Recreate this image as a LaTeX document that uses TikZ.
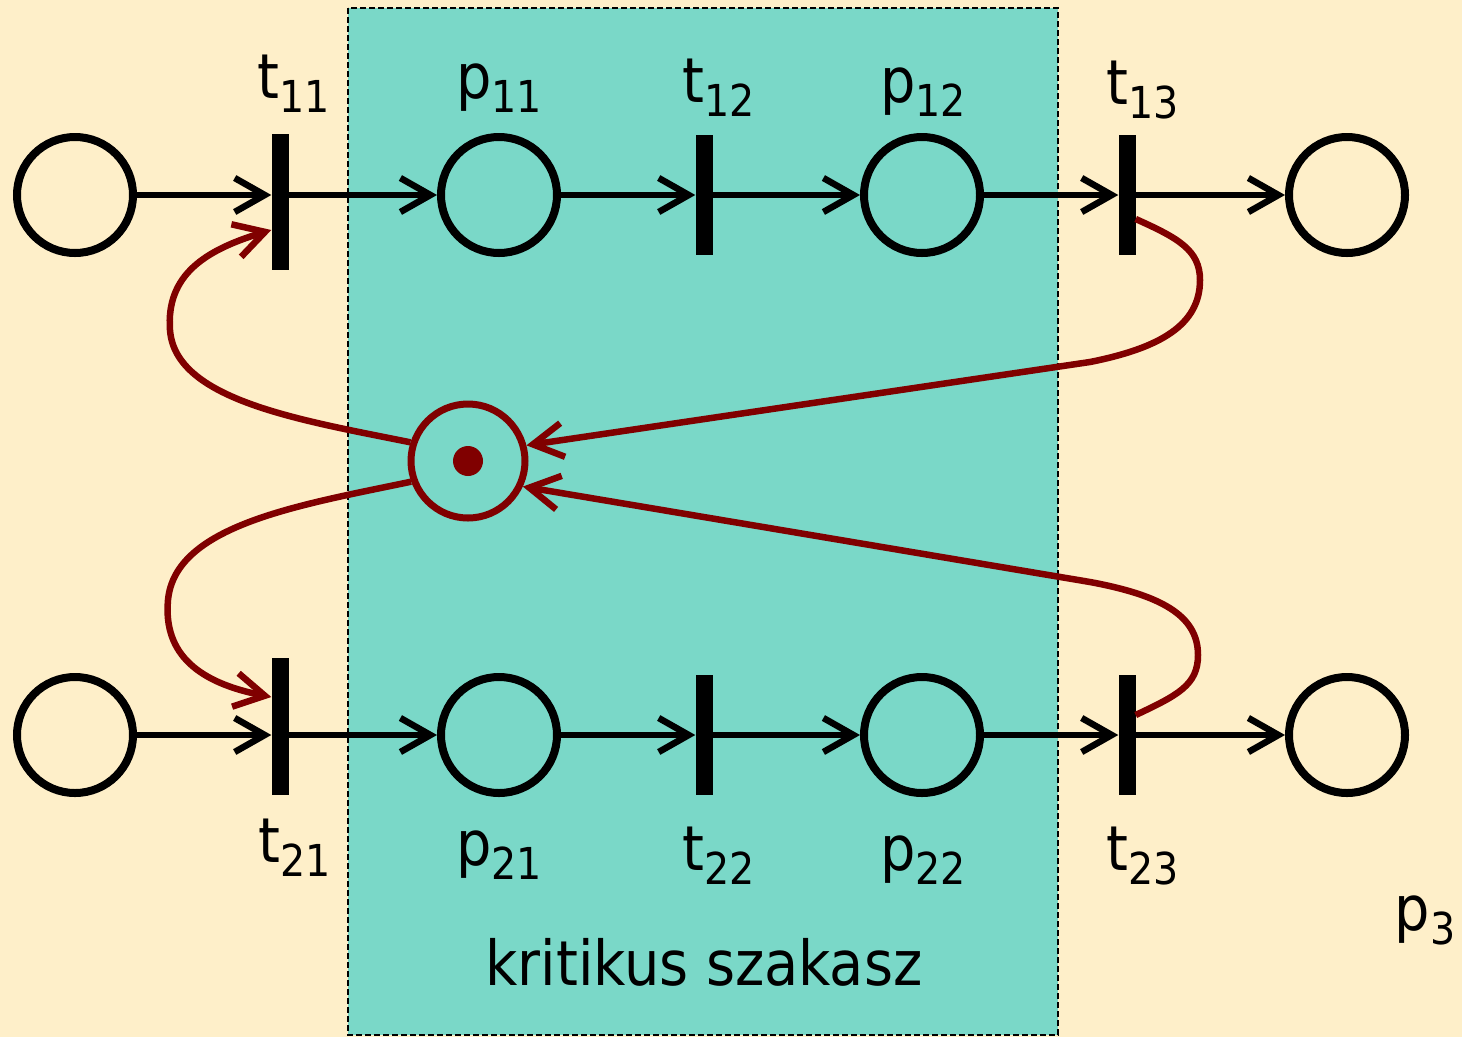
\documentclass[tikz,border=0pt]{standalone}
\usepackage{fontspec}
\setmainfont{DejaVu Sans Condensed}
\usetikzlibrary{arrows.meta,positioning}
\definecolor{Cream}{RGB}{254,239,201}
\definecolor{Teal}{RGB}{122,216,200}
\definecolor{DarkRed}{RGB}{128,0,0}
\newcommand{\tp}[2]{#1\raisebox{-14pt}{\fontsize{44}{48}\selectfont #2}}
\tikzset{
  place/.style={circle,draw=black,line width=8pt,minimum size=116pt,inner sep=0pt},
  mutex/.style={circle,draw=DarkRed,line width=7pt,minimum size=114pt,inner sep=0pt},
  token/.style={circle,fill=DarkRed,minimum size=30pt,inner sep=0pt},
  trans/.style={rectangle,fill=black,minimum width=17pt,inner sep=0pt},
  lbl/.style={font=\fontsize{62}{70}\selectfont,inner sep=0pt,anchor=base},
  arc/.style={-{Straight Barb[length=30pt,width=34pt]},line width=6.5pt,black},
  rarc/.style={-{Straight Barb[length=30pt,width=34pt]},line width=6.5pt,DarkRed},
}
\begin{document}
\begin{tikzpicture}[x=1pt,y=-1pt]
% background and critical section
\fill[Cream] (0,0) rectangle (1462,1037);
\useasboundingbox (0,0) rectangle (1462,1037);
\draw[fill=Teal,dash pattern=on 6pt off 3pt,line width=2pt] (348,8) rectangle (1058,1035);

% process 1
\node[place] (pin1) at (75,195) {};
\node[trans,minimum height=136pt] (t11) at (280,202) {};
\node[place] (p11) at (499,195) {};
\node[trans,minimum height=120pt] (t12) at (704,195) {};
\node[place] (p12) at (922,195) {};
\node[trans,minimum height=120pt] (t13) at (1127,195) {};
\node[place] (pout1) at (1347,195) {};

% process 2
\node[place] (pin2) at (75,735) {};
\node[trans,minimum height=137pt] (t21) at (280,726) {};
\node[place] (p21) at (499,735) {};
\node[trans,minimum height=120pt] (t22) at (704,735) {};
\node[place] (p22) at (922,735) {};
\node[trans,minimum height=120pt] (t23) at (1127,735) {};
\node[place] (pout2) at (1347,735) {};

% mutex place
\node[mutex] (p3) at (468,461) {};
\node[token] (tok) at (p3) {};

% labels
\node[lbl] (lt11) at (294,98) {\tp{t}{11}};
\node[lbl] (lp11) at (499,98) {\tp{p}{11}};
\node[lbl] (lt12) at (719,102) {\tp{t}{12}};
\node[lbl] (lp12) at (923,102) {\tp{p}{12}};
\node[lbl] (lt13) at (1143,104) {\tp{t}{13}};
\node[lbl] (lt21) at (295,862) {\tp{t}{21}};
\node[lbl] (lp21) at (499,865) {\tp{p}{21}};
\node[lbl] (lt22) at (719,870) {\tp{t}{22}};
\node[lbl] (lp22) at (923,870) {\tp{p}{22}};
\node[lbl] (lt23) at (1143,870) {\tp{t}{23}};
\node[lbl] (lp3) at (1425,930) {\tp{p}{3}};
\node[lbl] (crit) at (704,985) {kritikus szakasz};

% arcs
\draw[arc] (pin1) -- (pin1 -| t11.west);
\draw[arc] (pin1 -| t11.east) -- (p11);
\draw[arc] (p11) -- (t12);
\draw[arc] (t12) -- (p12);
\draw[arc] (p12) -- (t13);
\draw[arc] (t13) -- (pout1);
\draw[arc] (pin2) -- (pin2 -| t21.west);
\draw[arc] (pin2 -| t21.east) -- (p21);
\draw[arc] (p21) -- (t22);
\draw[arc] (t22) -- (p22);
\draw[arc] (p22) -- (t23);
\draw[arc] (t23) -- (pout2);

% mutex arcs
\draw[rarc] (p3.162) .. controls (300,420) and (175,400) .. (170,330)
  .. controls (166,275) and (205,250) .. ([yshift=-28pt]t11.west);
\draw[rarc] (p3.200) .. controls (300,505) and (175,525) .. (168,600)
  .. controls (163,655) and (200,683) .. ([yshift=29pt]t21.west);
\draw[rarc] ([yshift=-24pt]t13.east) .. controls (1178,238) and (1200,250) .. (1200,280)
  .. controls (1200,325) and (1160,348) .. (1090,362) -- (p3.15);
\draw[rarc] ([yshift=20pt]t23.east) .. controls (1178,695) and (1198,685) .. (1198,655)
  .. controls (1198,615) and (1160,595) .. (1090,582) -- (p3.-25);
\end{tikzpicture}
\end{document}
